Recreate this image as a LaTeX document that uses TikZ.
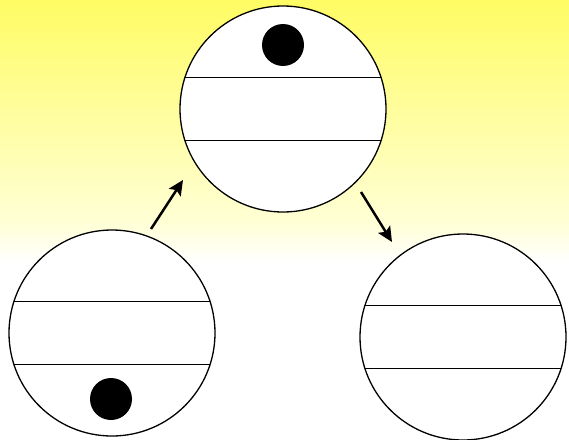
\documentclass[tikz,border=0pt]{standalone}
\usepackage{xcolor}
\usepackage{tikz}
\usetikzlibrary{arrows.meta,positioning}
\definecolor{sunyellow}{RGB}{255,252,100}
\definecolor{paleyellow}{RGB}{255,255,215}
\tikzset{
  cell/.style={circle, draw=black, line width=1.3pt, fill=white,
    minimum size=206pt, inner sep=0pt, outer sep=0pt},
  stripe/.style={line width=1.1pt},
  ball/.style={circle, fill=black, minimum width=42pt, minimum height=41pt, inner sep=0pt},
  flow/.style={-{Stealth[length=15pt,width=14pt,inset=3pt]}, line width=2.5pt}
}

\begin{document}
\begin{tikzpicture}[x=1pt,y=-1pt]
\useasboundingbox (0,0) rectangle (569,439);
% background
\shade[top color=sunyellow, bottom color=paleyellow] (0,0) rectangle (569,225);
\shade[top color=paleyellow, bottom color=white] (0,224) rectangle (569,262);

\node[cell] (top) at (283,109) {};
\node[cell] (left) at (112,333) {};
\node[cell] (right) at (463,337) {};

% stripes
\foreach \c in {top,left,right}{
  \draw[stripe] (\c.162) -- (\c.18);
  \draw[stripe] (\c.-162) -- (\c.-18);
}

\node[ball] (upball) at (283,45) {};
\node[ball] (downball) at (111,399) {};

\coordinate (up1) at (151,229);
\coordinate (up2) at (183,180);
\coordinate (dn1) at (361,192);
\coordinate (dn2) at (392,242);
\draw[flow] (up1) -- (up2);
\draw[flow] (dn1) -- (dn2);
\end{tikzpicture}
\end{document}
